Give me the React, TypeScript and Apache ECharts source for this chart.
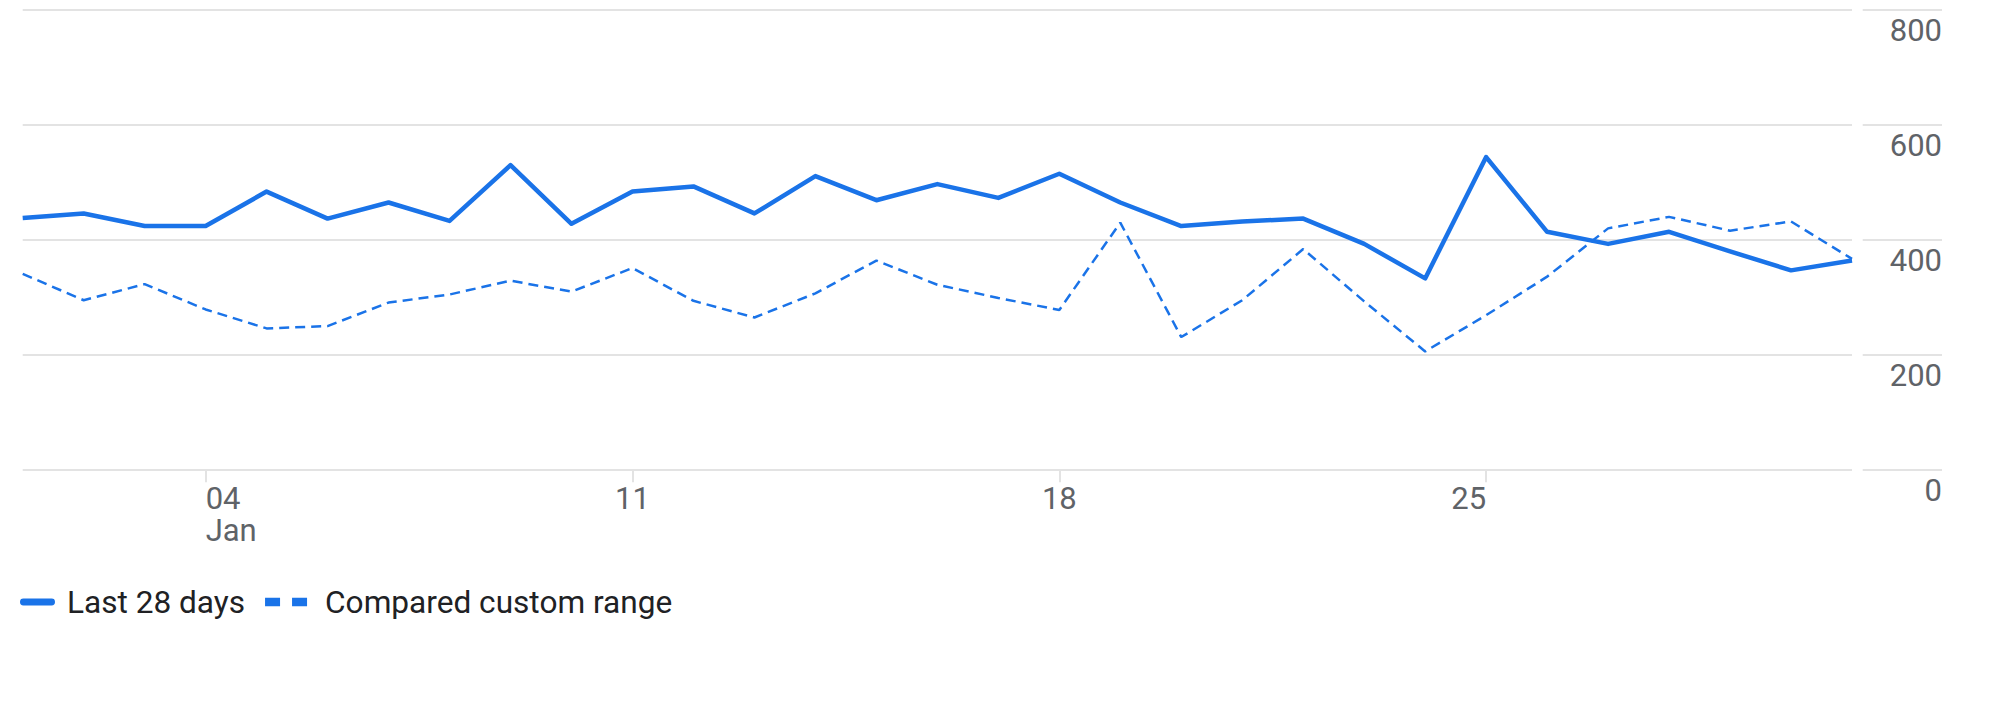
import { useEffect, useRef } from 'react';
import * as echarts from 'echarts';

// Jan 01 .. Jan 31
const days = Array.from({ length: 31 }, (_, i) => String(i + 1).padStart(2, '0'));

const last28Days = [
  437, 445, 423, 423, 483, 436, 464, 432, 529, 427, 483, 492, 445, 510, 468, 496,
  472, 514, 464, 423, 431, 436, 392, 332, 543, 413, 392, 413, 379, 346, 363,
];

const comparedRange = [
  340, 294, 322, 278, 245, 249, 290, 304, 328, 309, 350, 293, 264, 306, 363, 321,
  298, 277, 429, 230, 294, 383, 292, 205, 268, 335, 419, 439, 415, 431, 366,
];

const seriesNames = ['Last 28 days', 'Compared custom range'];
const tickIndexes = [3, 10, 17, 24];
const yMax = 800;
const yStep = 200;

const BLUE = '#1a73e8';
const GRID = '#e3e3e3';
const LABEL = '#5f6368';
const FONT = 'Roboto';

// legend icons drawn in a 42x9 box (the leading moves pin the box size)
const solidIcon =
  'path://M0,0M42,9M3.4,1.1H31.6A3.4,3.4 0 0 1 31.6,7.9H3.4A3.4,3.4 0 0 1 3.4,1.1Z';
const dashedIcon = 'path://M0,0M42,9M0,0.3H15V8.7H0ZM27,0.3H42V8.7H27Z';

export default function App() {
  const chartRef = useRef<HTMLDivElement>(null);

  useEffect(() => {
    if (!chartRef.current) return;
    const chart = echarts.init(chartRef.current, undefined, { renderer: 'svg' });

    const labelBase = {
      color: LABEL,
      fontFamily: FONT,
      fontSize: 31,
      lineHeight: 32,
      margin: 13,
    };

    const hiddenAxisBits = {
      axisLine: { show: false },
      axisTick: { show: false },
      splitLine: { show: false },
    };

    const option: echarts.EChartsOption = {
      animation: false,
      backgroundColor: '#ffffff',
      textStyle: { fontFamily: FONT },
      grid: [
        { left: 22.7, right: 148, top: 9.3, bottom: 254.7 },
        { left: 1862.7, right: 58, top: 9.3, bottom: 254.7 },
      ],
      legend: {
        left: 20,
        top: 586,
        padding: 0,
        itemWidth: 42,
        itemHeight: 9,
        itemGap: 20,
        selectedMode: false,
        textStyle: {
          color: '#202124',
          fontFamily: FONT,
          fontSize: 31.6,
          lineHeight: 32,
        },
        data: [
          { name: seriesNames[0], icon: solidIcon, itemStyle: { color: BLUE } },
          {
            name: seriesNames[1],
            icon: dashedIcon,
            itemStyle: { color: BLUE },
            textStyle: { padding: [0, 0, 0, 13] },
          },
        ] as any,
      },
      xAxis: [
        {
          type: 'category',
          gridIndex: 0,
          position: 'bottom',
          data: days,
          boundaryGap: false,
          axisLine: { show: false },
          splitLine: { show: false },
          axisTick: {
            show: true,
            length: 13,
            interval: (idx: number) => tickIndexes.includes(idx),
            lineStyle: { color: GRID, width: 2 },
          },
          axisLabel: {
            ...labelBase,
            align: 'center',
            interval: (idx: number) => idx === 10 || idx === 17,
          },
        },
        {
          type: 'category',
          gridIndex: 0,
          position: 'bottom',
          data: days,
          boundaryGap: false,
          ...hiddenAxisBits,
          axisLabel: {
            ...labelBase,
            align: 'left',
            interval: (idx: number) => idx === 3,
            formatter: (v: string) => `${v}\nJan`,
          },
        },
        {
          type: 'category',
          gridIndex: 0,
          position: 'bottom',
          data: days,
          boundaryGap: false,
          ...hiddenAxisBits,
          axisLabel: {
            ...labelBase,
            align: 'right',
            interval: (idx: number) => idx === 24,
          },
        },
        {
          type: 'value',
          gridIndex: 1,
          show: false,
        },
      ] as any,
      yAxis: [
        {
          type: 'value',
          gridIndex: 0,
          min: 0,
          max: yMax,
          interval: yStep,
          axisLine: { show: false },
          axisTick: { show: false },
          axisLabel: { show: false },
          splitLine: { lineStyle: { color: GRID, width: 2 } },
        },
        {
          type: 'value',
          gridIndex: 1,
          position: 'right',
          min: 0,
          max: yMax,
          interval: yStep,
          axisLine: { show: false },
          axisTick: { show: false },
          splitLine: { lineStyle: { color: GRID, width: 2 } },
          axisLabel: {
            inside: true,
            margin: 0,
            color: LABEL,
            fontFamily: FONT,
            fontSize: 31,
            verticalAlign: 'top',
            lineHeight: 42,
          },
        },
      ],
      series: [
        {
          name: seriesNames[0],
          type: 'line',
          xAxisIndex: 0,
          yAxisIndex: 0,
          data: last28Days,
          symbol: 'none',
          z: 3,
          lineStyle: { color: BLUE, width: 4.5, join: 'round' },
          itemStyle: { color: BLUE },
        },
        {
          name: seriesNames[1],
          type: 'line',
          xAxisIndex: 0,
          yAxisIndex: 0,
          data: comparedRange,
          symbol: 'none',
          z: 2,
          lineStyle: { color: BLUE, width: 2.5, type: [10, 6] },
          itemStyle: { color: BLUE },
        },
      ],
    };

    chart.setOption(option);
    return () => {
      chart.dispose();
    };
  }, []);

  return (
    <div
      ref={chartRef}
      style={{ position: 'fixed', left: 0, top: 0, width: 2000, height: 724, background: '#fff' }}
    />
  );
}
